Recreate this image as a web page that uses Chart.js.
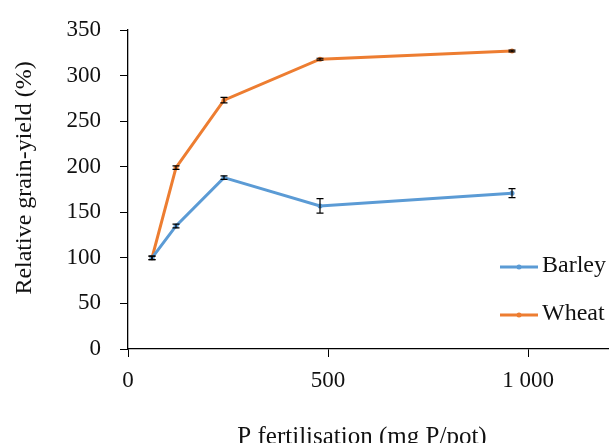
<!DOCTYPE html>
<html><head><meta charset="utf-8">
<script src="https://cdn.jsdelivr.net/npm/chart.js@4.4.1/dist/chart.umd.min.js"></script>
<style>
html,body{margin:0;padding:0;background:#fff;overflow:hidden;}
#wrap{position:relative;width:613px;height:460px;}
</style></head>
<body>
<div id="wrap"><canvas id="c"></canvas></div>
<script>
// ---- data ----
const pRates = [60, 120, 240, 480, 960];
const barley = [100, 135, 188, 157, 171];
const barleyErr = [2, 2, 2, 8, 5];
const wheat = [100, 199, 273, 318, 327];
const wheatErr = [2, 2, 3, 1, 1];
const xTicks = [0, 500, 1000];
const seriesNames = ['Barley', 'Wheat'];
const xTitle = 'P fertilisation (mg P/pot)';
const yTitle = 'Relative grain-yield (%)';

const FONT = '"Liberation Serif", "DejaVu Serif", serif';
const BLUE = '#5B9BD5', ORANGE = '#ED7D31';

const errPlugin = {
  id: 'errbars',
  afterDatasetsDraw(chart) {
    const ctx = chart.ctx, xs = chart.scales.x, ys = chart.scales.y;
    const errs = [barleyErr, wheatErr];
    ctx.save();
    ctx.strokeStyle = '#000'; ctx.lineWidth = 1.2;
    chart.data.datasets.forEach((ds, i) => {
      ds.data.forEach((p, j) => {
        const x = xs.getPixelForValue(p.x);
        const y1 = ys.getPixelForValue(p.y - errs[i][j]);
        const y2 = ys.getPixelForValue(p.y + errs[i][j]);
        ctx.beginPath();
        ctx.moveTo(x, y1); ctx.lineTo(x, y2);
        ctx.moveTo(x - 3.5, y1); ctx.lineTo(x + 3.5, y1);
        ctx.moveTo(x - 3.5, y2); ctx.lineTo(x + 3.5, y2);
        ctx.stroke();
      });
    });
    ctx.restore();
  }
};

const textPlugin = {
  id: 'texts',
  afterDraw(chart) {
    const ctx = chart.ctx;
    ctx.save();
    ctx.fillStyle = '#111';
    // y title
    ctx.font = '24px ' + FONT;
    ctx.textAlign = 'center'; ctx.textBaseline = 'middle';
    ctx.save();
    ctx.translate(25, 178);
    ctx.rotate(-Math.PI / 2);
    ctx.fillText(yTitle, 0, 0);
    ctx.restore();
    // x title
    ctx.font = '25px ' + FONT;
    ctx.fillText(xTitle, 362, 437);
    // legend
    const colors = [BLUE, ORANGE];
    const ly = [267, 315];
    seriesNames.forEach((n, i) => {
      ctx.strokeStyle = colors[i]; ctx.lineWidth = 3;
      ctx.beginPath(); ctx.moveTo(500, ly[i]); ctx.lineTo(538, ly[i]); ctx.stroke();
      ctx.fillStyle = colors[i];
      ctx.beginPath(); ctx.arc(519, ly[i], 2.5, 0, Math.PI * 2); ctx.fill();
      ctx.fillStyle = '#111';
      ctx.font = '24px ' + FONT;
      ctx.textAlign = 'left'; ctx.textBaseline = 'middle';
      ctx.fillText(n, 542, ly[i] - 1);
    });
    ctx.restore();
  }
};

const mk = (vals) => pRates.map((x, i) => ({x: x, y: vals[i]}));

new Chart(document.getElementById('c'), {
  type: 'line',
  data: {
    datasets: [
      {label: seriesNames[0], data: mk(barley), borderColor: BLUE, backgroundColor: BLUE,
       borderWidth: 3, pointRadius: 2.5, pointBorderWidth: 0, tension: 0},
      {label: seriesNames[1], data: mk(wheat), borderColor: ORANGE, backgroundColor: ORANGE,
       borderWidth: 3, pointRadius: 2.5, pointBorderWidth: 0, tension: 0}
    ]
  },
  options: {
    responsive: true, maintainAspectRatio: false, animation: false,
    layout: {padding: {top: 0, right: 5, left: 0, bottom: 0}},
    plugins: {legend: {display: false}, tooltip: {enabled: false}},
    scales: {
      x: {
        type: 'linear', min: 0, max: 1200,
        afterBuildTicks(s) { s.ticks = xTicks.map(v => ({value: v})); },
        afterFit(s) { s.height = 111; },
        grid: {drawOnChartArea: false, drawTicks: true, tickLength: 8, color: '#000'},
        border: {color: '#000', width: 1.3},
        ticks: {color: '#111', font: {family: FONT, size: 23}, padding: 10, maxRotation: 0,
                callback: v => String(v).replace(/\B(?=(\d{3})+(?!\d))/g, ' ')}
      },
      y: {
        min: 0, max: 350,
        afterFit(s) { s.width = 128; s.paddingTop = 30; s.paddingBottom = 10; },
        grid: {drawOnChartArea: false, drawTicks: true, tickLength: 8, color: '#000'},
        border: {color: '#000', width: 1.3},
        ticks: {stepSize: 50, color: '#111', font: {family: FONT, size: 23}, padding: 19}
      }
    }
  },
  plugins: [errPlugin, textPlugin]
});
</script>
</body></html>
